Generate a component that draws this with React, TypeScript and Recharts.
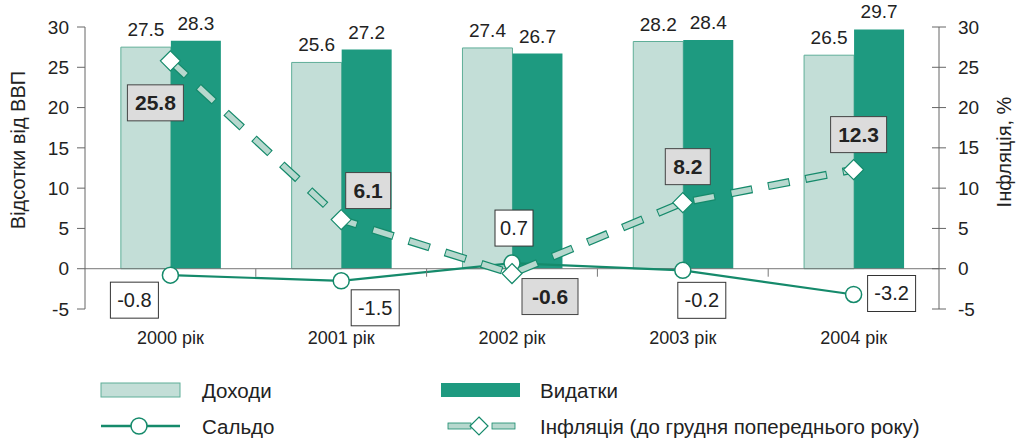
import React from "react";
import {
  ComposedChart,
  Bar,
  Line,
  XAxis,
  YAxis,
  LabelList,
  ReferenceLine,
} from "recharts";

const categories = ["2000 рік", "2001 рік", "2002 рік", "2003 рік", "2004 рік"];
const revenues = [27.5, 25.6, 27.4, 28.2, 26.5];
const expenditures = [28.3, 27.2, 26.7, 28.4, 29.7];
const balance = [-0.8, -1.5, 0.7, -0.2, -3.2];
const inflation = [25.8, 6.1, -0.6, 8.2, 12.3];
const yTicks = [-5, 0, 5, 10, 15, 20, 25, 30];

const data = categories.map((cat, i) => ({
  cat,
  revenues: revenues[i],
  expenditures: expenditures[i],
  balance: balance[i],
  inflation: inflation[i],
}));

// label box placement relative to the point (box centre)
const balanceLabelShift = [
  [-36, 25],
  [34, 27],
  [2, -35],
  [19, 30],
  [38, -1],
];
const inflationLabelShift = [
  [-15, 42],
  [27, -29],
  [38, 23],
  [5, -36],
  [5, -35],
];

const FONT = "'Liberation Sans', Arial, sans-serif";
const LIGHT = "#c3ded7";
const LIGHT_EDGE = "#5fae98";
const DARK = "#1e9a80";
const LINE = "#158a6b";
const TOP = 27;
const PLOT_H = 282;
const X_AXIS_H = 40;
const ZERO_Y = TOP + (PLOT_H * 30) / 35;

const fmt = (v: number) => String(v);

const BoxLabel = (props: any, shifts: number[][], bold: boolean) => {
  const { x, y, value, index } = props;
  const [dx, dy] = shifts[index] || [0, 0];
  const text = fmt(value);
  const w = bold ? text.length * 11 + 12 : text.length * 10 + 8;
  const h = 36;
  const cx = x + dx;
  const cy = y + dy;
  return (
    <g>
      <rect
        x={cx - w / 2}
        y={cy - h / 2}
        width={w}
        height={h}
        fill={bold ? "#dcdcdc" : "#fff"}
        stroke={bold ? "#444" : "#333"}
        strokeWidth={1}
      />
      <text
        x={cx}
        y={cy}
        textAnchor="middle"
        dominantBaseline="central"
        fontSize={bold ? 21 : 20}
        fontWeight={bold ? 700 : 400}
        fill="#222"
        fontFamily={FONT}
      >
        {text}
      </text>
    </g>
  );
};

const Diamond = (props: any) => {
  const { cx, cy } = props;
  if (cx == null || cy == null) return <g />;
  const s = 10;
  return (
    <polygon
      points={`${cx},${cy - s} ${cx + s},${cy} ${cx},${cy + s} ${cx - s},${cy}`}
      fill="#fff"
      stroke={LINE}
      strokeWidth={1.2}
    />
  );
};

const XTick = (props: any) => {
  const { x, y, payload, index } = props;
  const half = payload && payload.offset ? payload.offset : 85.4;
  return (
    <g>
      {index < categories.length - 1 && (
        <line
          x1={x + half}
          x2={x + half}
          y1={ZERO_Y}
          y2={ZERO_Y + 8}
          stroke="#777"
          strokeWidth={1}
        />
      )}
      <text
        x={x}
        y={y}
        dy="0.71em"
        textAnchor="middle"
        fontSize={18}
        fill="#222"
        fontFamily={FONT}
      >
        {payload.value}
      </text>
    </g>
  );
};

const RightTick = (props: any) => {
  const { y, payload } = props;
  const ax = 939;
  return (
    <g>
      <line x1={ax - 7} x2={ax + 7} y1={y} y2={y} stroke="#666" strokeWidth={1} />
      <text
        x={ax + 19}
        y={y}
        dominantBaseline="central"
        textAnchor="start"
        fontSize={19}
        fill="#222"
        fontFamily={FONT}
      >
        {payload.value}
      </text>
    </g>
  );
};

const AxisTitle = ({ x, y, text }: { x: number; y: number; text: string }) => (
  <text
    x={x}
    y={y}
    transform={`rotate(-90 ${x} ${y})`}
    textAnchor="middle"
    dominantBaseline="central"
    fontSize={20}
    fill="#222"
    fontFamily={FONT}
  >
    {text}
  </text>
);

const Legend = () => (
  <svg
    width={1018}
    height={80}
    style={{ position: "absolute", left: 0, top: 365 }}
    fontFamily={FONT}
  >
    <rect x={101} y={18} width={79} height={14} fill={LIGHT} stroke={LIGHT_EDGE} />
    <text x={202} y={25} dominantBaseline="central" fontSize={20.5} fill="#222">
      Доходи
    </text>
    <rect x={441} y={18} width={79} height={14} fill={DARK} />
    <text x={540} y={25} dominantBaseline="central" fontSize={20.5} fill="#222">
      Видатки
    </text>
    <line x1={101} x2={180} y1={61} y2={61} stroke={LINE} strokeWidth={2.5} />
    <circle cx={139} cy={61} r={8} fill="#fff" stroke={LINE} strokeWidth={1.5} />
    <text x={202} y={61} dominantBaseline="central" fontSize={20.5} fill="#222">
      Сальдо
    </text>
    <rect x={448} y={58} width={23} height={6} fill="#b7d8ce" stroke={LINE} strokeWidth={0.8} />
    <rect x={492} y={58} width={23} height={6} fill="#b7d8ce" stroke={LINE} strokeWidth={0.8} />
    <polygon points="479,52 488,61 479,70 470,61" fill="#fff" stroke={LINE} strokeWidth={1.2} />
    <text x={540} y={61} dominantBaseline="central" fontSize={20.5} fill="#222">
      Інфляція (до грудня попереднього року)
    </text>
  </svg>
);

export default function App() {
  return (
    <div style={{ position: "relative", width: 1018, height: 440, background: "#fff" }}>
      <style>{"body{margin:0}"}</style>
      <ComposedChart
        width={1018}
        height={440}
        data={data}
        margin={{ top: TOP, right: 0, left: 0, bottom: 440 - TOP - PLOT_H - X_AXIS_H }}
        barCategoryGap="21%"
        barGap={0}
      >
        <XAxis
          dataKey="cat"
          axisLine={false}
          tickLine={false}
          tickSize={0}
          tickMargin={22}
          tick={<XTick />}
          interval={0}
          height={X_AXIS_H}
        />
        <YAxis
          yAxisId="left"
          domain={[-5, 30]}
          ticks={yTicks}
          width={85}
          tickSize={8}
          tickMargin={8}
          axisLine={{ stroke: "#666" }}
          tickLine={{ stroke: "#666" }}
          tick={{ fill: "#222", fontSize: 19, fontFamily: FONT }}
          interval={0}
          label={() => <AxisTitle x={18} y={150} text="Відсотки від ВВП" />}
        />
        <YAxis
          yAxisId="right"
          orientation="right"
          domain={[-5, 30]}
          ticks={yTicks}
          width={79}
          axisLine={{ stroke: "#666" }}
          tickLine={false}
          tick={(p: any) => <RightTick {...p} />}
          interval={0}
          label={() => <AxisTitle x={1004} y={152} text="Інфляція, %" />}
        />
        <Bar
          yAxisId="left"
          dataKey="revenues"
          fill={LIGHT}
          stroke={LIGHT_EDGE}
          strokeWidth={1}
          isAnimationActive={false}
        >
          <LabelList
            dataKey="revenues"
            position="top"
            offset={11}
            fill="#222"
            fontSize={19}
            fontFamily={FONT}
          />
        </Bar>
        <Bar yAxisId="left" dataKey="expenditures" fill={DARK} isAnimationActive={false}>
          <LabelList
            dataKey="expenditures"
            position="top"
            offset={11}
            fill="#222"
            fontSize={19}
            fontFamily={FONT}
          />
        </Bar>
        <ReferenceLine yAxisId="left" y={0} stroke="#777" strokeWidth={1} />
        <Line
          yAxisId="right"
          dataKey="inflation"
          stroke="none"
          dot={false}
          activeDot={false}
          isAnimationActive={false}
        />
        <Line
          yAxisId="left"
          dataKey="balance"
          stroke={LINE}
          strokeWidth={2.2}
          dot={{ r: 8, fill: "#fff", stroke: LINE, strokeWidth: 1.5 }}
          activeDot={false}
          isAnimationActive={false}
        />
        <Line
          yAxisId="left"
          dataKey="inflation"
          stroke={LINE}
          strokeWidth={8}
          strokeDasharray="22 16"
          dot={false}
          activeDot={false}
          isAnimationActive={false}
        />
        <Line
          yAxisId="left"
          dataKey="inflation"
          stroke="#b7d8ce"
          strokeWidth={5.5}
          strokeDasharray="20 18"
          strokeDashoffset={-1}
          dot={<Diamond />}
          activeDot={false}
          isAnimationActive={false}
        >
          <LabelList
            dataKey="inflation"
            content={(p: any) => BoxLabel(p, inflationLabelShift, true)}
          />
        </Line>
        <Line
          yAxisId="left"
          dataKey="balance"
          stroke="none"
          dot={false}
          activeDot={false}
          isAnimationActive={false}
        >
          <LabelList
            dataKey="balance"
            content={(p: any) => BoxLabel(p, balanceLabelShift, false)}
          />
        </Line>
      </ComposedChart>
      <Legend />
    </div>
  );
}
